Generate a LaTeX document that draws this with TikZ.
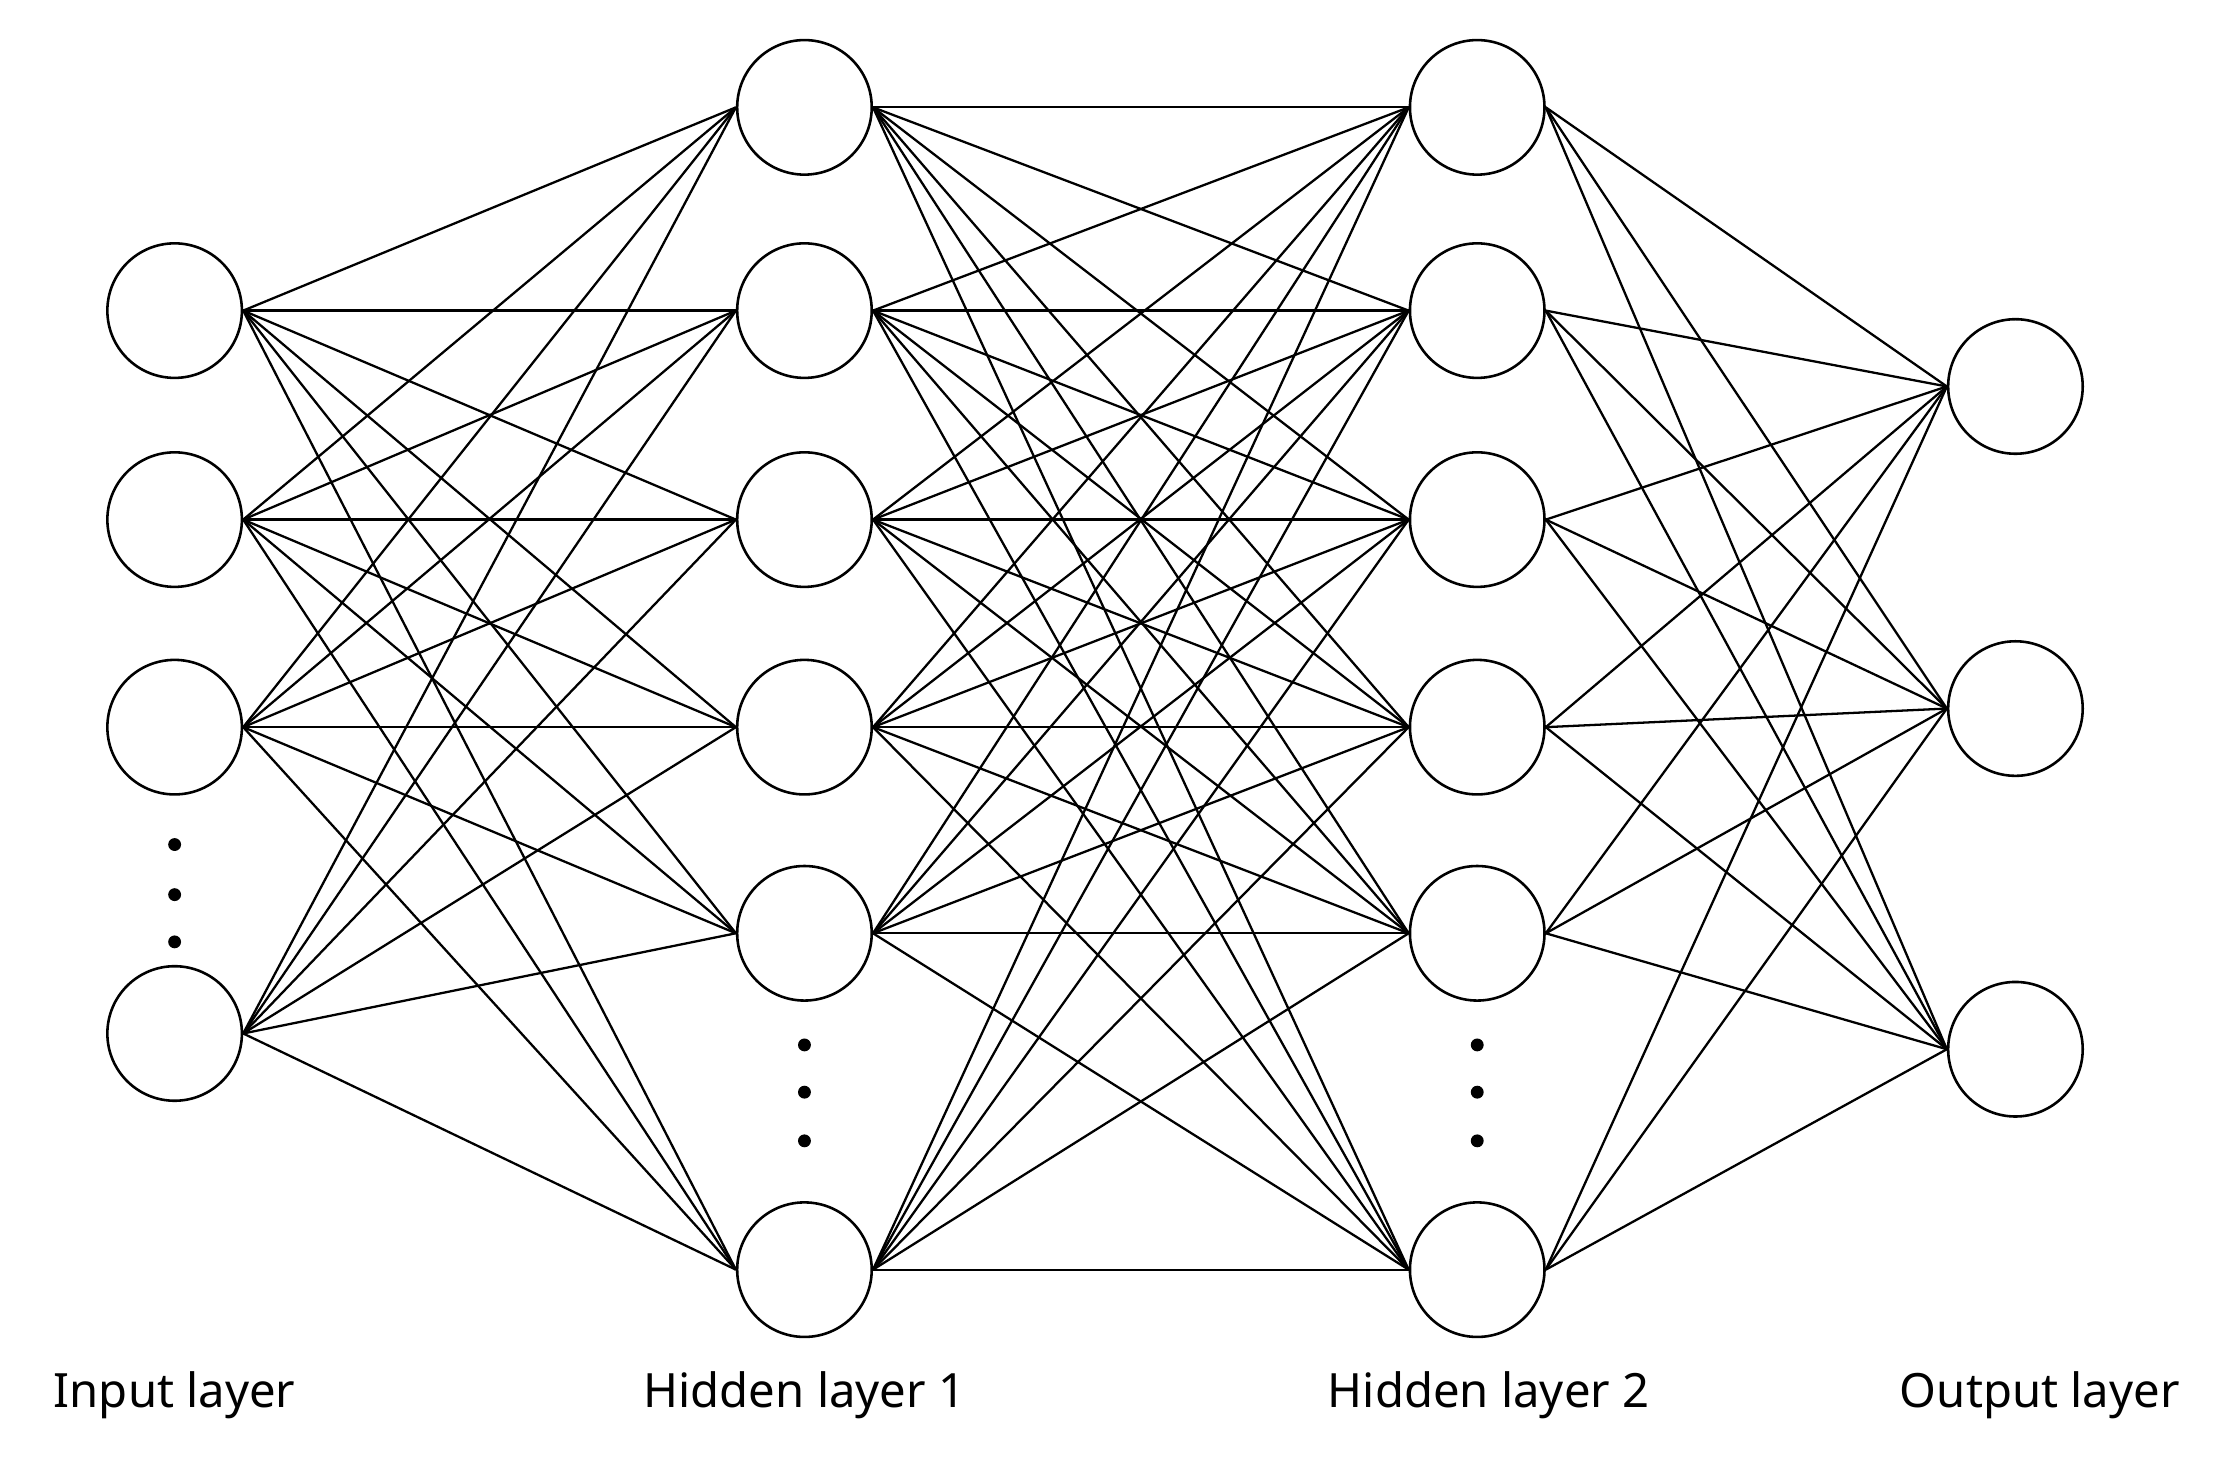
\documentclass[tikz,border=0pt]{standalone}
\usepackage{fontspec}
\setmainfont{Noto Sans}
\begin{document}
\begin{tikzpicture}[x=1pt,y=-1pt,
  neuron/.style={circle,draw,line width=1.8pt,minimum size=94pt,inner sep=0pt},
  conn/.style={line width=1.6pt},
  dot/.style={circle,fill,inner sep=0pt,minimum size=9pt},
  lbl/.style={font=\fontsize{33}{40}\selectfont\bfseries}]
\useasboundingbox (0,0) rectangle (1560,1019);
\foreach \n/\y in {1/217,2/363,3/508,4/722} \node[neuron] (i\n) at (122,\y) {};
\foreach \n/\y in {1/75,2/217,3/363,4/508,5/652,6/887} {
  \node[neuron] (a\n) at (562,\y) {};
  \node[neuron] (b\n) at (1032,\y) {};}
\foreach \n/\y in {1/270,2/495,3/733} \node[neuron] (o\n) at (1408,\y) {};
\foreach \y in {590,625,658} \node[dot] (di\y) at (122,\y) {};
\foreach \y in {730,763,797} {\node[dot] (da\y) at (562,\y) {}; \node[dot] (db\y) at (1032,\y) {};}
\foreach \i in {1,...,4} \foreach \j in {1,...,6} \draw[conn] (i\i.east) -- (a\j.west);
\foreach \i in {1,...,6} \foreach \j in {1,...,6} \draw[conn] (a\i.east) -- (b\j.west);
\foreach \i in {1,...,6} \foreach \j in {1,...,3} \draw[conn] (b\i.east) -- (o\j.west);
\node[lbl] (l1) at (122,975) {Input layer};
\node[lbl] (l2) at (562,975) {Hidden layer 1};
\node[lbl] (l3) at (1040,975) {Hidden layer 2};
\node[lbl] (l4) at (1425,975) {Output layer};
\end{tikzpicture}
\end{document}
